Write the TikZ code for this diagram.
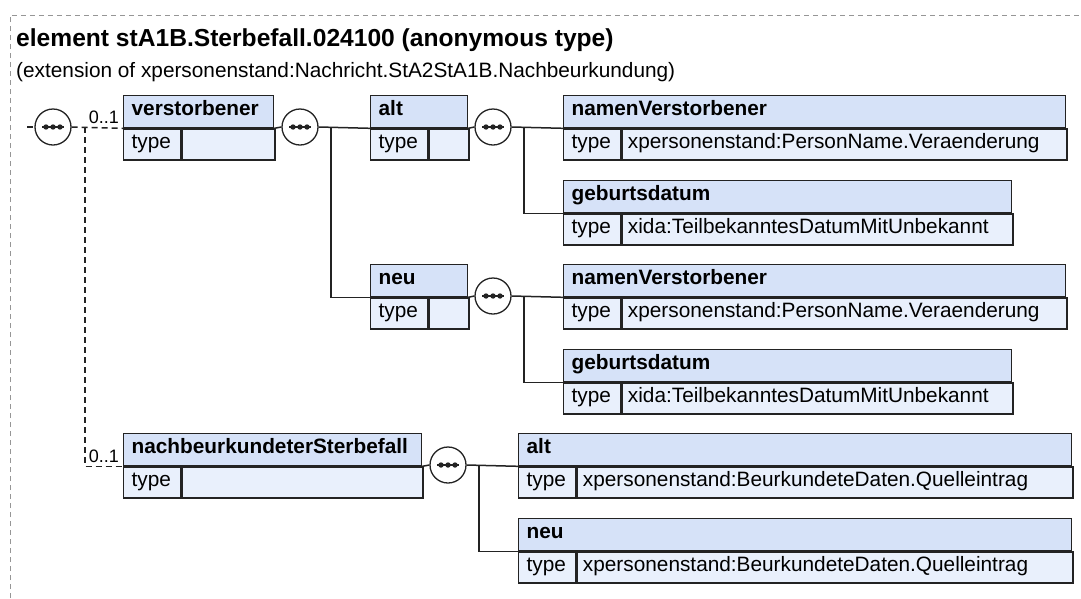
\documentclass[tikz,border=0pt]{standalone}
\usepackage{fontspec}
\setmainfont{Liberation Sans}
\definecolor{hdrfill}{RGB}{214,226,248}
\definecolor{typfill}{RGB}{233,240,252}
\definecolor{edge}{RGB}{35,35,35}
\definecolor{framegray}{RGB}{150,150,150}
\tikzset{
  hdrcell/.style={draw=edge, line width=1.3pt, fill=hdrfill, anchor=north west,
    inner xsep=8pt, inner ysep=5pt, text height=15pt, text depth=7pt, align=left,
    font={\fontsize{20.8}{24}\selectfont\bfseries}},
  typcell/.style={draw=edge, line width=1.3pt, fill=typfill, anchor=north west,
    inner xsep=8pt, inner ysep=5pt, text height=15pt, text depth=6pt, align=left,
    text width=41pt, font={\fontsize{20.8}{24}\selectfont}},
  valcell/.style={draw=edge, line width=1.3pt, fill=typfill, anchor=north west,
    inner xsep=6pt, inner ysep=5pt, text height=15pt, text depth=6pt, align=left,
    font={\fontsize{20.8}{24}\selectfont}},
  seqnode/.style={circle, draw=edge, line width=1.3pt, fill=white, minimum size=36pt,
    inner sep=0pt},
  seqdot/.style={fill=edge},
  conn/.style={draw=edge, line width=1.5pt},
  optconn/.style={draw=edge, line width=1.5pt, dash pattern=on 6pt off 4pt},
  multlbl/.style={anchor=base east, inner sep=0pt, font={\fontsize{18}{20}\selectfont}},
  titletext/.style={anchor=base west, inner sep=0pt, font={\fontsize{24.6}{28}\selectfont\bfseries}},
  subtext/.style={anchor=base west, inner sep=0pt, font={\fontsize{20.8}{24}\selectfont}},
}
\newcommand\xsdbox[6]{%
  \pgfmathsetmacro\hw{#4-16}%
  \pgfmathsetmacro\vw{#4-57-12}%
  \node[hdrcell, text width=\hw pt] (#1) at (#2,#3) {#5};
  \node[typcell] (#1t) at (#1.south west) {type};
  \node[valcell, text width=\vw pt] (#1v) at (#1t.north east) {#6};
}
\begin{document}
\begin{tikzpicture}[x=1pt,y=-1pt]
\useasboundingbox (0,0) rectangle (1081,598);
\fill[white] (0,0) rectangle (1081,598);
% frame
\coordinate (fbl) at (10,598);
\coordinate (ftl) at (10,15);
\coordinate (ftr) at (1081,15);
\draw[framegray, line width=1pt, dash pattern=on 5pt off 4pt] (fbl) -- (ftl) -- (ftr);
% titles
\node[titletext] (title) at (16,46) {element stA1B.Sterbefall.024100 (anonymous type)};
\node[subtext] (subtitle) at (16,77) {(extension of xpersonenstand:Nachricht.StA2StA1B.Nachbeurkundung)};
% boxes
\xsdbox{b1}{123}{95}{150}{verstorbener}{}
\xsdbox{b2}{370}{95}{97}{alt}{}
\xsdbox{b3}{563}{95}{502}{namenVerstorbener}{xpersonenstand:PersonName.Veraenderung}
\xsdbox{b4}{563}{180}{448}{geburtsdatum}{xida:TeilbekanntesDatumMitUnbekannt}
\xsdbox{b5}{370}{264}{97}{neu}{}
\xsdbox{b6}{563}{264}{502}{namenVerstorbener}{xpersonenstand:PersonName.Veraenderung}
\xsdbox{b7}{563}{349}{448}{geburtsdatum}{xida:TeilbekanntesDatumMitUnbekannt}
\xsdbox{b8}{123}{433}{298}{nachbeurkundeterSterbefall}{}
\xsdbox{b9}{518}{433}{553}{alt}{xpersonenstand:BeurkundeteDaten.Quelleintrag}
\xsdbox{b10}{518}{518}{553}{neu}{xpersonenstand:BeurkundeteDaten.Quelleintrag}
% junctions
\coordinate (stub) at (27,127);
\coordinate (j0) at (85,127);
\coordinate (j1) at (331,127);
\coordinate (j2) at (524,127);
\coordinate (j3) at (524,296);
\coordinate (j4) at (479,465);
% compositor circles
\node[seqnode] (c0) at (53,127) {};
\node[seqnode] (c1) at (300,127) {};
\node[seqnode] (c2) at (493,127) {};
\node[seqnode] (c3) at (493,296) {};
\node[seqnode] (c4) at (448,465) {};
\foreach \cn in {c0,c1,c2,c3,c4}{
  \draw[edge, line width=1.4pt] ([xshift=-11pt]\cn.center) -- ([xshift=11pt]\cn.center);
  \foreach \dx in {-7,0,7}
    \fill[seqdot] ([xshift=\dx pt]\cn.center) circle[radius=2.7pt];
}
% optional connectors
\draw[optconn] (stub) -- (c0.west);
\draw[optconn] (c0.east) -- (b1.south west);
\draw[optconn] (j0) |- (b8.south west);
\node[multlbl] (m1) at (119,123) {0..1};
\node[multlbl] (m2) at (119,462) {0..1};
% solid connectors
\draw[conn] (b1.south east) -- (c1.west);
\draw[conn] (c1.east) -- (b2.south west);
\draw[conn] (j1) |- (b5.south west);
\draw[conn] (b2.south east) -- (c2.west);
\draw[conn] (c2.east) -- (b3.south west);
\draw[conn] (j2) |- (b4.south west);
\draw[conn] (b5.south east) -- (c3.west);
\draw[conn] (c3.east) -- (b6.south west);
\draw[conn] (j3) |- (b7.south west);
\draw[conn] (b8.south east) -- (c4.west);
\draw[conn] (c4.east) -- (b9.south west);
\draw[conn] (j4) |- (b10.south west);
\end{tikzpicture}
\end{document}
